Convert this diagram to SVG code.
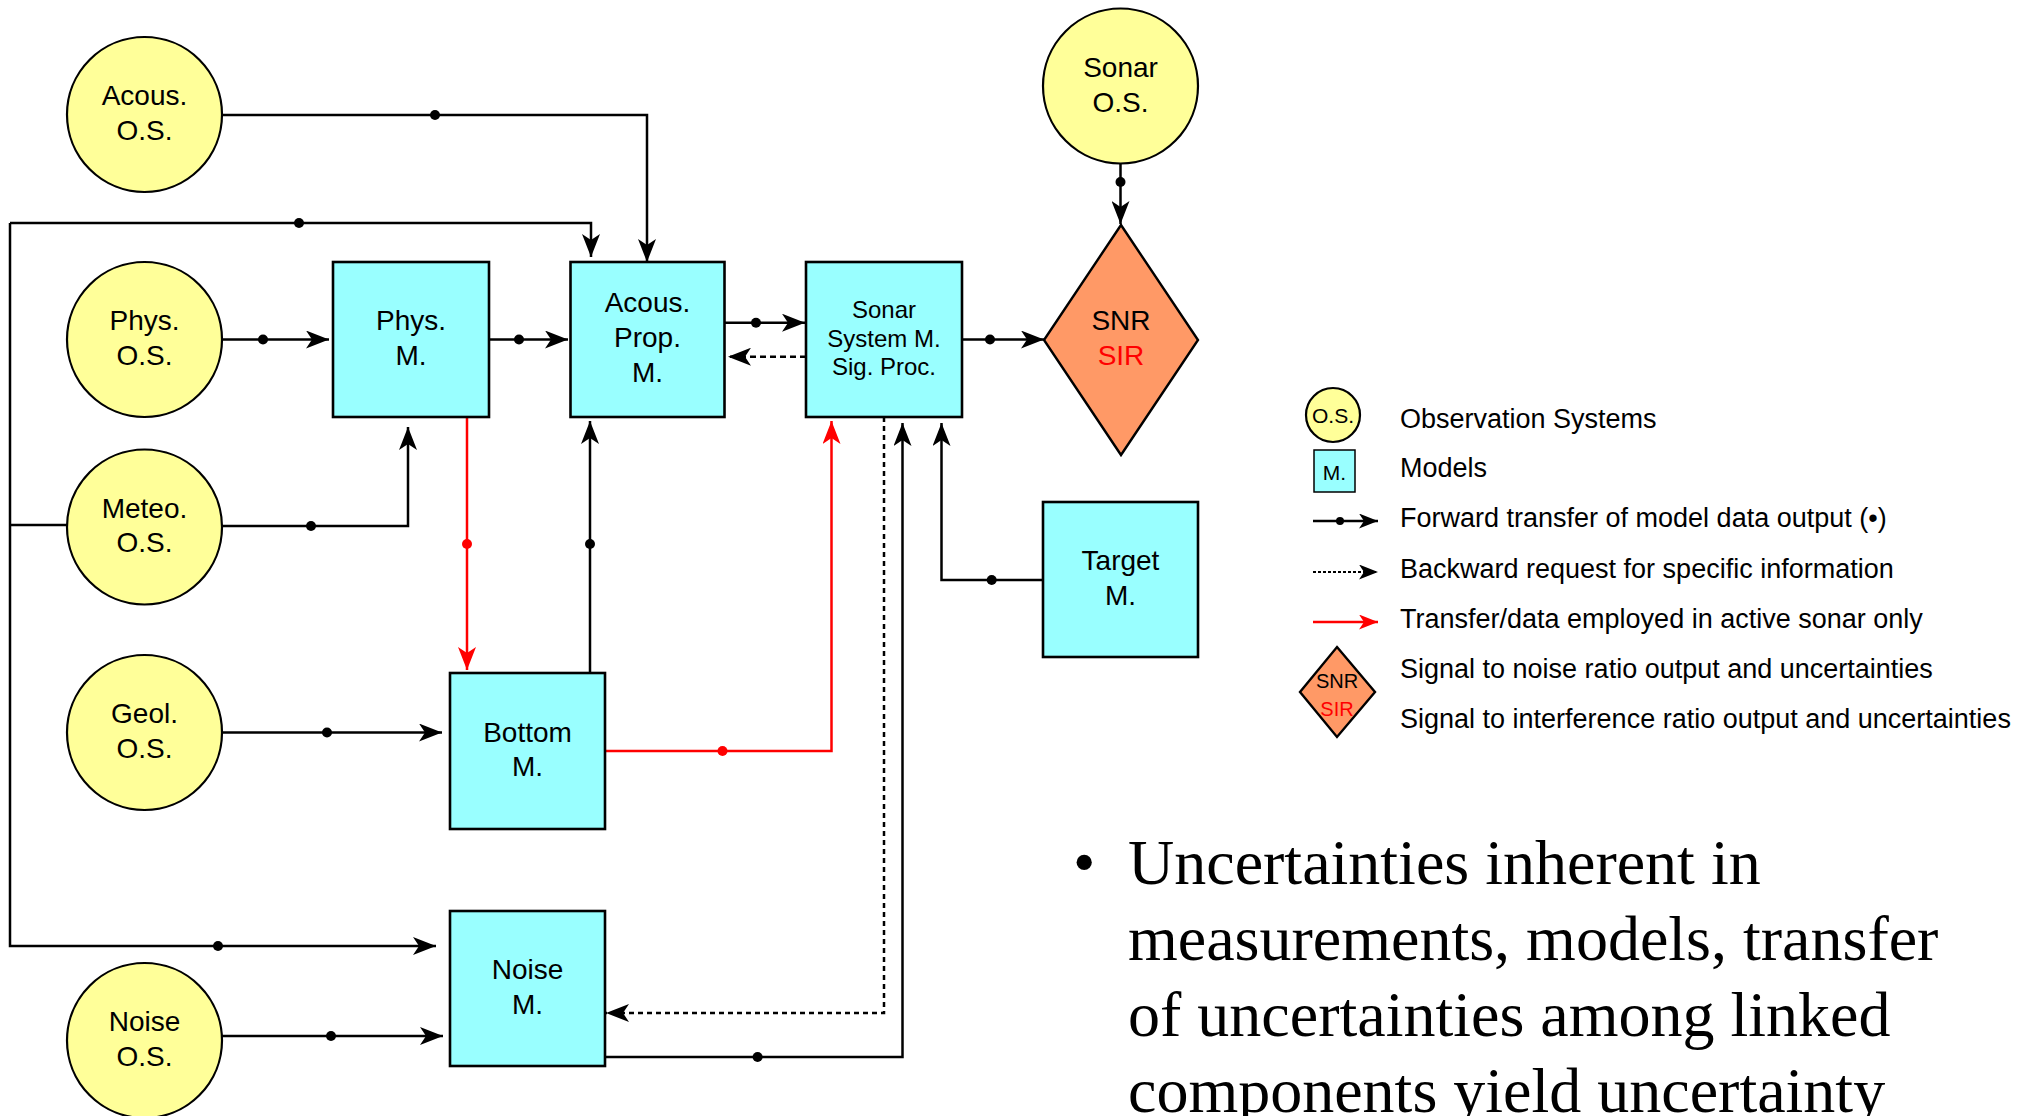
<svg xmlns="http://www.w3.org/2000/svg" width="2032" height="1116" viewBox="0 0 2032 1116">
<defs>
<style>
.os{fill:#FFFF99;stroke:#000;stroke-width:2.2}
.m{fill:#99FFFF;stroke:#000;stroke-width:2.6}
.dia{fill:#FF9966;stroke:#000;stroke-width:2.4}
.t{font-family:"Liberation Sans",Arial,sans-serif;font-size:28px;fill:#000;text-anchor:middle}
.ts{font-family:"Liberation Sans",Arial,sans-serif;font-size:24px;fill:#000;text-anchor:middle}
.red{fill:#FF0000}
.c{fill:none;stroke:#000;stroke-width:2.5}
.cr{fill:none;stroke:#FF0000;stroke-width:2.5}
.dash{stroke-dasharray:6,4}
.dot{fill:#000}
.dotr{fill:#FF0000}
.lg{font-family:"Liberation Sans",Arial,sans-serif;font-size:27px;fill:#000}
.bul{font-family:"Liberation Serif","Times New Roman",serif;font-size:64px;fill:#000}
</style>
<marker id="ah" markerUnits="userSpaceOnUse" markerWidth="23" markerHeight="18" refX="23" refY="9" orient="auto" viewBox="0 0 23 18"><path d="M0,0 L23,9 L0,18 L6,9 Z" fill="#000"/></marker>
<marker id="ahr" markerUnits="userSpaceOnUse" markerWidth="23" markerHeight="18" refX="23" refY="9" orient="auto" viewBox="0 0 23 18"><path d="M0,0 L23,9 L0,18 L6,9 Z" fill="#FF0000"/></marker>
<marker id="ahs" markerUnits="userSpaceOnUse" markerWidth="19" markerHeight="15" refX="19" refY="7.5" orient="auto" viewBox="0 0 19 15"><path d="M0,0 L19,7.5 L0,15 L5,7.5 Z" fill="#000"/></marker>
<marker id="ahsr" markerUnits="userSpaceOnUse" markerWidth="19" markerHeight="15" refX="19" refY="7.5" orient="auto" viewBox="0 0 19 15"><path d="M0,0 L19,7.5 L0,15 L5,7.5 Z" fill="#FF0000"/></marker>
</defs>
<rect width="2032" height="1116" fill="#fff"/>

<g id="connectors">
<path class="c" d="M222,115 H647 V262" marker-end="url(#ah)"/>
<circle class="dot" cx="435" cy="115" r="5"/>
<path class="c" d="M10,223 H591 V257" marker-end="url(#ah)"/>
<circle class="dot" cx="299" cy="223" r="5"/>
<path class="c" d="M10,223 V946 H436" marker-end="url(#ah)"/>
<circle class="dot" cx="218" cy="946" r="5"/>
<path class="c" d="M10,525 H67"/>
<path class="c" d="M222,339.5 H329" marker-end="url(#ah)"/>
<circle class="dot" cx="263" cy="339.5" r="5"/>
<path class="c" d="M489,339.5 H568" marker-end="url(#ah)"/>
<circle class="dot" cx="519" cy="339.5" r="5"/>
<path class="c" d="M222,526 H408 V427" marker-end="url(#ah)"/>
<circle class="dot" cx="311" cy="526" r="5"/>
<path class="cr" d="M467,417 V670" marker-end="url(#ahr)"/>
<circle class="dotr" cx="467" cy="544" r="5"/>
<path class="c" d="M590,673 V421" marker-end="url(#ah)"/>
<circle class="dot" cx="590" cy="544" r="5"/>
<path class="c" d="M222,732.5 H442" marker-end="url(#ah)"/>
<circle class="dot" cx="327" cy="732.5" r="5"/>
<path class="cr" d="M605,751 H831.5 V421" marker-end="url(#ahr)"/>
<circle class="dotr" cx="722.5" cy="751" r="5"/>
<path class="c" d="M725,322.7 H805" marker-end="url(#ah)"/>
<circle class="dot" cx="756" cy="322.7" r="5"/>
<path class="c dash" d="M806,356.7 H728" marker-end="url(#ah)"/>
<path class="c" d="M962,339.5 H1044" marker-end="url(#ah)"/>
<circle class="dot" cx="990" cy="339.5" r="5"/>
<path class="c" d="M1120.5,164 V224" marker-end="url(#ah)"/>
<circle class="dot" cx="1120.5" cy="182" r="5"/>
<path class="c" d="M1043,580 H941.5 V423" marker-end="url(#ah)"/>
<circle class="dot" cx="991.7" cy="580" r="5"/>
<path class="c" d="M605,1057 H902.5 V423" marker-end="url(#ah)"/>
<circle class="dot" cx="757.6" cy="1057" r="5"/>
<path class="c" d="M884,417 V1013 H606" stroke-dasharray="5,4" marker-end="url(#ah)"/>
<path class="c" d="M222,1036 H443" marker-end="url(#ah)"/>
<circle class="dot" cx="331" cy="1036" r="5"/>
</g>

<g id="acous-os"><circle class="os" cx="144.5" cy="114.5" r="77.5"/><text class="t" x="144.5" y="105">Acous.</text><text class="t" x="144.5" y="140">O.S.</text></g>
<g id="phys-os"><circle class="os" cx="144.5" cy="339.5" r="77.5"/><text class="t" x="144.5" y="330">Phys.</text><text class="t" x="144.5" y="365">O.S.</text></g>
<g id="meteo-os"><circle class="os" cx="144.5" cy="527" r="77.5"/><text class="t" x="144.5" y="518">Meteo.</text><text class="t" x="144.5" y="552">O.S.</text></g>
<g id="geol-os"><circle class="os" cx="144.5" cy="732.5" r="77.5"/><text class="t" x="144.5" y="723">Geol.</text><text class="t" x="144.5" y="758">O.S.</text></g>
<g id="noise-os"><circle class="os" cx="144.5" cy="1040.5" r="77.5"/><text class="t" x="144.5" y="1031">Noise</text><text class="t" x="144.5" y="1066">O.S.</text></g>
<g id="sonar-os"><circle class="os" cx="1120.5" cy="86" r="77.5"/><text class="t" x="1120.5" y="76.5">Sonar</text><text class="t" x="1120.5" y="111.5">O.S.</text></g>

<g id="phys-m"><rect class="m" x="333" y="262" width="156" height="155"/><text class="t" x="411" y="330">Phys.</text><text class="t" x="411" y="365">M.</text></g>
<g id="acous-prop-m"><rect class="m" x="570.5" y="262" width="154" height="155"/><text class="t" x="647.5" y="312">Acous.</text><text class="t" x="647.5" y="347">Prop.</text><text class="t" x="647.5" y="382">M.</text></g>
<g id="sonar-system-m"><rect class="m" x="806" y="262" width="156" height="155"/><text class="ts" x="884" y="318">Sonar</text><text class="ts" x="884" y="347">System M.</text><text class="ts" x="884" y="375">Sig. Proc.</text></g>
<g id="bottom-m"><rect class="m" x="450" y="673" width="155" height="156"/><text class="t" x="527.5" y="742">Bottom</text><text class="t" x="527.5" y="776">M.</text></g>
<g id="noise-m"><rect class="m" x="450" y="911" width="155" height="155"/><text class="t" x="527.5" y="978.5">Noise</text><text class="t" x="527.5" y="1013.5">M.</text></g>
<g id="target-m"><rect class="m" x="1043" y="502" width="155" height="155"/><text class="t" x="1120.5" y="569.5">Target</text><text class="t" x="1120.5" y="604.5">M.</text></g>
<g id="snr-sir"><polygon class="dia" points="1121,225 1198,340 1121,455 1044,340"/><text class="t" x="1121" y="330">SNR</text><text class="t red" x="1121" y="365">SIR</text></g>

<g id="legend">
<circle class="os" cx="1333" cy="415" r="27"/><text class="t" style="font-size:21px" x="1333" y="423">O.S.</text>
<text class="lg" x="1400" y="428">Observation Systems</text>
<rect class="m" x="1314" y="450" width="41" height="42" style="stroke-width:1.5"/><text class="t" style="font-size:21px" x="1334.5" y="480">M.</text>
<text class="lg" x="1400" y="477">Models</text>
<path class="c" d="M1313,521 H1378" marker-end="url(#ahs)"/><circle class="dot" cx="1340" cy="521" r="4"/>
<text class="lg" x="1400" y="527">Forward transfer of model data output (•)</text>
<path class="c" d="M1313,572 H1378" stroke-dasharray="3,2" style="stroke-width:1.8" marker-end="url(#ahs)"/>
<text class="lg" x="1400" y="578">Backward request for specific information</text>
<path class="cr" d="M1313,622 H1378" marker-end="url(#ahsr)"/>
<text class="lg" x="1400" y="628">Transfer/data employed in active sonar only</text>
<polygon class="dia" points="1337,647 1375,692 1337,737 1300,692"/>
<text class="t" style="font-size:20px" x="1337" y="688">SNR</text><text class="t red" style="font-size:20px" x="1337" y="716">SIR</text>
<text class="lg" x="1400" y="678">Signal to noise ratio output and uncertainties</text>
<text class="lg" x="1400" y="728">Signal to interference ratio output and uncertainties</text>
</g>

<g id="bullet-text">
<text class="bul" x="1073" y="884">•</text>
<text class="bul" x="1128" y="884">Uncertainties inherent in</text>
<text class="bul" x="1128" y="960">measurements, models, transfer</text>
<text class="bul" x="1128" y="1036">of uncertainties among linked</text>
<text class="bul" x="1128" y="1112">components yield uncertainty</text>
</g>
</svg>
